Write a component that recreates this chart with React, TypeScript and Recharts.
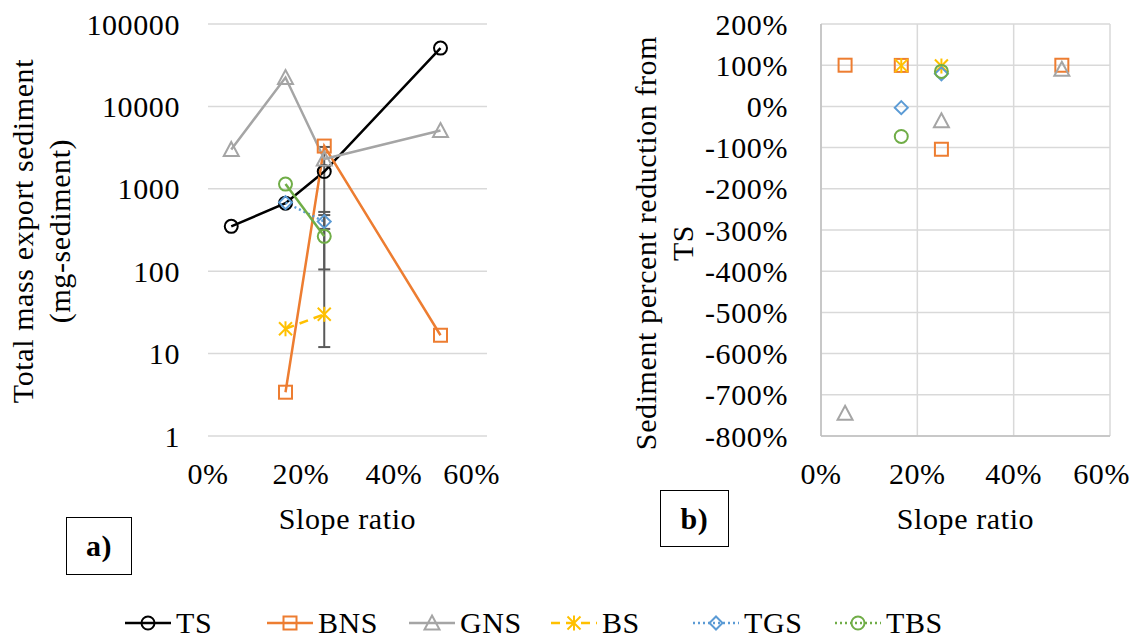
import React from "react";
import {
  LineChart,
  Line,
  XAxis,
  YAxis,
  CartesianGrid,
  ErrorBar,
  ScatterChart,
  Scatter,
} from "recharts";

// slope ratios shared by both panels
const slopeRatios = [0.05, 1 / 6, 0.25, 0.5];
const xTicks = [0, 0.2, 0.4, 0.6];
const massTicks = [1, 10, 100, 1000, 10000, 100000];
const reductionTicks = [-8, -7, -6, -5, -4, -3, -2, -1, 0, 1, 2];

// a) total mass export sediment (mg-sediment)
const tsMass = [350, 670, 1620, 51000];
const bnsMass = [null, 3.4, 3300, 16.7];
const gnsMass = [3000, 22400, 2300, 5100];
const bsMass = [null, 20, 30, null];
const tgsMass = [null, 680, 400, null];
const tbsMass = [null, 1140, 265, null];

// error bars [minus, plus]
const tsErr = [null, null, [1608, 1600], null];
const tgsErr = [null, null, [74, 124], null];
const tbsErr = [null, null, [160, 215], null];

// b) sediment percent reduction from TS (1 = 100%)
const bnsReduction = [1.0, 0.995, -1.04, 0.999];
const gnsReduction = [-7.45, null, -0.35, 0.9];
const bsReduction = [null, 0.99, 0.98, null];
const tgsReduction = [null, -0.03, 0.79, null];
const tbsReduction = [null, -0.73, 0.85, null];

const FONT = "'Liberation Serif', 'DejaVu Serif', 'Times New Roman', serif";
const FS = 30;

const series = [
  { name: "TS", color: "#000000", shape: "circle", dash: undefined },
  { name: "BNS", color: "#ED7D31", shape: "square", dash: undefined },
  { name: "GNS", color: "#A5A5A5", shape: "triangle", dash: undefined },
  { name: "BS", color: "#FFC000", shape: "star", dash: "9 6" },
  { name: "TGS", color: "#5B9BD5", shape: "diamond", dash: "2 3" },
  { name: "TBS", color: "#70AD47", shape: "circle", dash: "2 3" },
];

const massData = slopeRatios.map((x, i) => ({
  x,
  TS: tsMass[i],
  BNS: bnsMass[i],
  GNS: gnsMass[i],
  BS: bsMass[i],
  TGS: tgsMass[i],
  TBS: tbsMass[i],
  tsErr: tsErr[i],
  tgsErr: tgsErr[i],
  tbsErr: tbsErr[i],
}));

const toPoints = (vals: (number | null)[]) =>
  slopeRatios
    .map((x, i) => ({ x, y: vals[i] }))
    .filter((p) => p.y !== null);

function Marker({ cx, cy, shape, color }: any) {
  if (cx == null || cy == null || Number.isNaN(cy)) return <g />;
  const s = 6.5;
  const common = { fill: "none", stroke: color, strokeWidth: 2 };
  if (shape === "circle") return <circle cx={cx} cy={cy} r={s} {...common} />;
  if (shape === "square")
    return <rect x={cx - s} y={cy - s} width={2 * s} height={2 * s} {...common} />;
  if (shape === "triangle")
    return (
      <polygon
        points={`${cx},${cy - s - 1} ${cx + s + 1},${cy + s} ${cx - s - 1},${cy + s}`}
        {...common}
      />
    );
  if (shape === "diamond")
    return (
      <polygon
        points={`${cx},${cy - s} ${cx + s},${cy} ${cx},${cy + s} ${cx - s},${cy}`}
        {...common}
      />
    );
  // asterisk
  return (
    <g stroke={color} strokeWidth={2}>
      <line x1={cx - s} y1={cy - s} x2={cx + s} y2={cy + s} />
      <line x1={cx - s} y1={cy + s} x2={cx + s} y2={cy - s} />
      <line x1={cx} y1={cy - s - 1} x2={cx} y2={cy + s + 1} />
    </g>
  );
}

const dotFor = (shape: string, color: string) => (p: any) => {
  if (p.value == null) return <g key={`d-${p.index}`} />;
  return <Marker key={`d-${p.index}`} cx={p.cx} cy={p.cy} shape={shape} color={color} />;
};

const pct = (v: number) => `${Math.round(v * 100)}%`;

const tickStyle = { fill: "#000", fontSize: FS, fontFamily: FONT };

const leftTitle = () => (
  <g fontFamily={FONT} fontSize={FS} fill="#000">
    <text transform="translate(33,231) rotate(-90)" textAnchor="middle">
      Total mass export sediment
    </text>
    <text transform="translate(70,231) rotate(-90)" textAnchor="middle">
      (mg-sediment)
    </text>
  </g>
);

const rightTitle = () => (
  <g fontFamily={FONT} fontSize={FS} fill="#000">
    <text transform="translate(56,243) rotate(-90)" textAnchor="middle">
      Sediment percent reduction from
    </text>
    <text transform="translate(93,243) rotate(-90)" textAnchor="middle">
      TS
    </text>
  </g>
);

function LegendRow() {
  return (
    <div
      style={{
        position: "absolute",
        left: 125,
        top: 605,
        display: "flex",
        alignItems: "center",
        fontFamily: FONT,
        fontSize: FS,
        lineHeight: "36px",
      }}
    >
      {series.map((s) => (
        <div key={s.name} style={{ display: "flex", alignItems: "center", width: 142 }}>
          <svg width={46} height={20} style={{ marginRight: 5, flexShrink: 0 }}>
            <line
              x1={0}
              y1={10}
              x2={46}
              y2={10}
              stroke={s.color}
              strokeWidth={2.5}
              strokeDasharray={s.dash}
            />
            <Marker cx={23} cy={10} shape={s.shape} color={s.color} />
          </svg>
          <span>{s.name}</span>
        </div>
      ))}
    </div>
  );
}

const boxStyle: React.CSSProperties = {
  position: "absolute",
  border: "1.5px solid #000",
  boxSizing: "border-box",
  display: "flex",
  alignItems: "center",
  justifyContent: "center",
  fontFamily: FONT,
  fontSize: FS,
  fontWeight: "bold",
  background: "#fff",
};

export default function App() {
  return (
    <div
      style={{
        position: "absolute",
        left: 0,
        top: 0,
        width: 1141,
        height: 639,
        background: "#fff",
        overflow: "hidden",
        fontFamily: FONT,
        letterSpacing: "0.6px",
      }}
    >
      <div style={{ position: "absolute", left: 0, top: 0 }}>
        <LineChart
          width={500}
          height={540}
          data={massData}
          margin={{ top: 24, right: 13, left: 108, bottom: 0 }}
        >
          <CartesianGrid stroke="#D9D9D9" strokeWidth={1.5} vertical={false} />
          <XAxis
            dataKey="x"
            type="number"
            domain={[0, 0.6]}
            ticks={xTicks}
            tickFormatter={pct}
            axisLine={false}
            tickLine={false}
            tickSize={0}
            tickMargin={27}
            height={104}
            tick={tickStyle}
            label={{
              value: "Slope ratio",
              position: "insideTop",
              offset: 72,
              style: { fill: "#000", fontSize: FS, fontFamily: FONT },
            }}
          />
          <YAxis
            scale="log"
            domain={[1, 100000]}
            ticks={massTicks}
            allowDataOverflow
            axisLine={false}
            tickLine={false}
            tickSize={0}
            tickMargin={28}
            width={100}
            tick={tickStyle}
            label={leftTitle}
          />
          {series.map((s) => (
            <Line
              key={s.name}
              dataKey={s.name}
              stroke={s.color}
              strokeWidth={2.5}
              strokeDasharray={s.name === "BS" || s.name === "TGS" ? s.dash : undefined}
              dot={dotFor(s.shape, s.color)}
              activeDot={false}
              isAnimationActive={false}
            >
              {s.name === "TS" && (
                <ErrorBar dataKey="tsErr" direction="y" width={6} stroke="#595959" strokeWidth={2} />
              )}
              {s.name === "TGS" && (
                <ErrorBar dataKey="tgsErr" direction="y" width={6} stroke="#595959" strokeWidth={2} />
              )}
              {s.name === "TBS" && (
                <ErrorBar dataKey="tbsErr" direction="y" width={6} stroke="#595959" strokeWidth={2} />
              )}
            </Line>
          ))}
        </LineChart>
      </div>

      <div style={{ position: "absolute", left: 600, top: 0 }}>
        <ScatterChart
          width={530}
          height={540}
          margin={{ top: 24, right: 20, left: 121, bottom: 0 }}
        >
          <CartesianGrid stroke="#D9D9D9" strokeWidth={1.5} />
          <XAxis
            dataKey="x"
            type="number"
            domain={[0, 0.6]}
            ticks={xTicks}
            tickFormatter={pct}
            axisLine={{ stroke: "#BFBFBF", strokeWidth: 1.5 }}
            tickLine={false}
            tickSize={0}
            tickMargin={27}
            height={104}
            tick={tickStyle}
            label={{
              value: "Slope ratio",
              position: "insideTop",
              offset: 72,
              style: { fill: "#000", fontSize: FS, fontFamily: FONT },
            }}
          />
          <YAxis
            dataKey="y"
            type="number"
            domain={[-8, 2]}
            ticks={reductionTicks}
            tickFormatter={pct}
            axisLine={{ stroke: "#BFBFBF", strokeWidth: 1.5 }}
            tickLine={false}
            tickSize={0}
            tickMargin={33}
            width={100}
            tick={tickStyle}
            label={rightTitle}
          />
          <Scatter
            name="BNS"
            data={toPoints(bnsReduction)}
            shape={(p: any) => <Marker cx={p.cx} cy={p.cy} shape="square" color="#ED7D31" />}
            isAnimationActive={false}
          />
          <Scatter
            name="GNS"
            data={toPoints(gnsReduction)}
            shape={(p: any) => <Marker cx={p.cx} cy={p.cy} shape="triangle" color="#A5A5A5" />}
            isAnimationActive={false}
          />
          <Scatter
            name="BS"
            data={toPoints(bsReduction)}
            shape={(p: any) => <Marker cx={p.cx} cy={p.cy} shape="star" color="#FFC000" />}
            isAnimationActive={false}
          />
          <Scatter
            name="TGS"
            data={toPoints(tgsReduction)}
            shape={(p: any) => <Marker cx={p.cx} cy={p.cy} shape="diamond" color="#5B9BD5" />}
            isAnimationActive={false}
          />
          <Scatter
            name="TBS"
            data={toPoints(tbsReduction)}
            shape={(p: any) => <Marker cx={p.cx} cy={p.cy} shape="circle" color="#70AD47" />}
            isAnimationActive={false}
          />
        </ScatterChart>
      </div>

      <div style={{ ...boxStyle, left: 66, top: 517, width: 66, height: 58 }}>a)</div>
      <div style={{ ...boxStyle, left: 660, top: 490, width: 69, height: 57 }}>b)</div>

      <LegendRow />
    </div>
  );
}
